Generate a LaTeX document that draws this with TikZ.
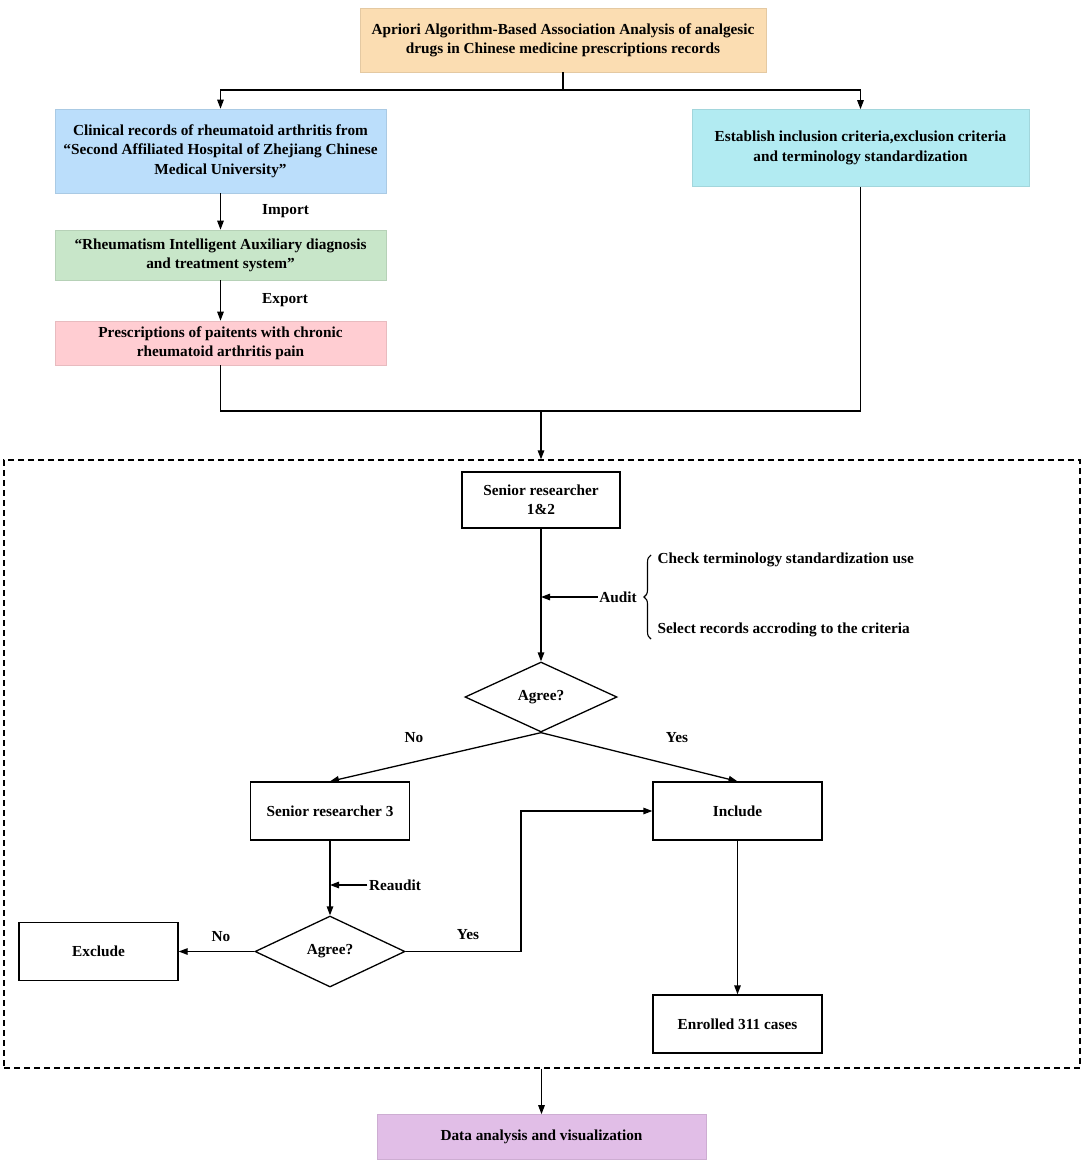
\documentclass[tikz,border=0pt]{standalone}
\usepackage{fontspec}
\setmainfont{Liberation Serif}
\usetikzlibrary{arrows.meta,shapes.geometric,decorations.pathreplacing,calc}
\definecolor{cpeach}{HTML}{FBDDB2}
\definecolor{cblue}{HTML}{BBDEFB}
\definecolor{cgreen}{HTML}{C8E6C9}
\definecolor{cpink}{HTML}{FFCDD2}
\definecolor{ccyan}{HTML}{B2EBF2}
\definecolor{cpurple}{HTML}{E1BEE7}
\begin{document}
\begin{tikzpicture}[x=1pt,y=-1pt,
  font=\bfseries\fontsize{15.3}{19.3}\selectfont,
  line width=1.3pt,
  cbox/.style={draw=#1!85!black!60!#1, line width=0.6pt, fill=#1, inner sep=0pt, align=center},
  wbox/.style={draw=black, fill=white, inner sep=0pt, align=center},
  dia/.style={draw=black, fill=white, diamond, inner sep=0pt, align=center},
  arr/.style={-{Triangle[length=9pt,width=6.5pt]}},
  lbl/.style={inner sep=1pt}]
\useasboundingbox (0,0) rectangle (1084,1162);
\fill[white] (0,0) rectangle (1084,1162);

% frame
\node[draw=black, dash pattern=on 6pt off 4pt, line width=1.3pt, minimum width=1076pt, minimum height=608pt, inner sep=0pt] (frame) at (542,764) {};

% colored boxes
\node[cbox=cpeach, minimum width=406pt, minimum height=64pt] (top) at (563,40)
  {Apriori Algorithm-Based Association Analysis of analgesic\\drugs in Chinese medicine prescriptions records};
\node[cbox=cblue, minimum width=331pt, minimum height=84pt] (blue) at (220.5,151)
  {Clinical records of rheumatoid arthritis from\\``Second Affiliated Hospital of Zhejiang Chinese\\Medical University''};
\node[cbox=cgreen, minimum width=331pt, minimum height=50pt] (green) at (220.5,255)
  {``Rheumatism Intelligent Auxiliary diagnosis\\and treatment system''};
\node[cbox=cpink, minimum width=331pt, minimum height=44pt] (pink) at (220.5,343)
  {Prescriptions of paitents with chronic\\rheumatoid arthritis pain};
\node[cbox=ccyan, minimum width=337pt, minimum height=77pt] (cyan) at (860.5,148)
  {Establish inclusion criteria,exclusion criteria\\and terminology standardization};
\node[cbox=cpurple, minimum width=329pt, minimum height=45pt] (data) at (541.5,1137)
  {Data analysis and visualization};

% white boxes
\node[wbox, minimum width=158pt, minimum height=56pt] (sr12) at (541,500) {Senior researcher\\1\&2};
\node[dia, minimum width=152pt, minimum height=70pt] (d1) at (541,697) {Agree?};
\node[wbox, minimum width=159pt, minimum height=58pt] (sr3) at (330,811) {Senior researcher 3};
\node[wbox, minimum width=169pt, minimum height=58pt] (inc) at (737.5,811) {Include};
\node[dia, minimum width=150pt, minimum height=71pt] (d2) at (330,951.5) {Agree?};
\node[wbox, minimum width=159pt, minimum height=58pt] (exc) at (98.5,951.5) {Exclude};
\node[wbox, minimum width=169pt, minimum height=58pt] (enr) at (737.5,1024) {Enrolled 311 cases};

% top connectors
\coordinate (split) at (563,90);
\draw (top.south) -- (split);
\draw[arr] (split) -| (blue.north);
\draw[arr] (split) -| (cyan.north);
\draw[arr] (blue.south) -- (green.north) node[lbl, pos=0.5, right=40pt] (imp) {Import};
\draw[arr] (green.south) -- (pink.north) node[lbl, pos=0.5, right=40pt] (exp) {Export};
\coordinate (merge) at (541,411);
\draw (pink.south) |- (merge);
\draw (cyan.south) |- (merge);
\draw[arr] (merge) -- (merge |- frame.north);

% inner flow
\draw[arr] (sr12.south) -- (d1.north);
\node[lbl] (audit) at (618,597) {Audit};
\draw[arr] (audit.west) -- (audit.west -| sr12.south);
\coordinate (bt) at (651,555);
\coordinate (bb) at (651,639);
\draw[line width=1.1pt, decorate, decoration={brace, amplitude=7pt}] (bb) -- (bt);
\node[lbl, anchor=west] (chk) at (656,560) {Check terminology standardization use};
\node[lbl, anchor=west] (sel) at (656,630) {Select records accroding to the criteria};

\draw[arr] (d1.south) -- (sr3.north);
\draw[arr] (d1.south) -- (inc.north);
\node[lbl] (no1) at (414,738) {No};
\node[lbl] (yes1) at (677,738) {Yes};

\draw[arr] (sr3.south) -- (d2.north);
\node[lbl] (reaud) at (395,885) {Reaudit};
\draw[arr] (reaud.west) -- (reaud.west -| sr3.south);

\draw[arr] (d2.west) -- (exc.east);
\node[lbl] (no2) at (221,937) {No};
\coordinate (turn) at (521,951.5);
\draw[arr] (d2.east) -- (turn) |- (inc.west);
\node[lbl] (yes2) at (468,935) {Yes};

\draw[arr] (inc.south) -- (enr.north);
\draw[arr] (data.north |- frame.south) -- (data.north);
\end{tikzpicture}
\end{document}
